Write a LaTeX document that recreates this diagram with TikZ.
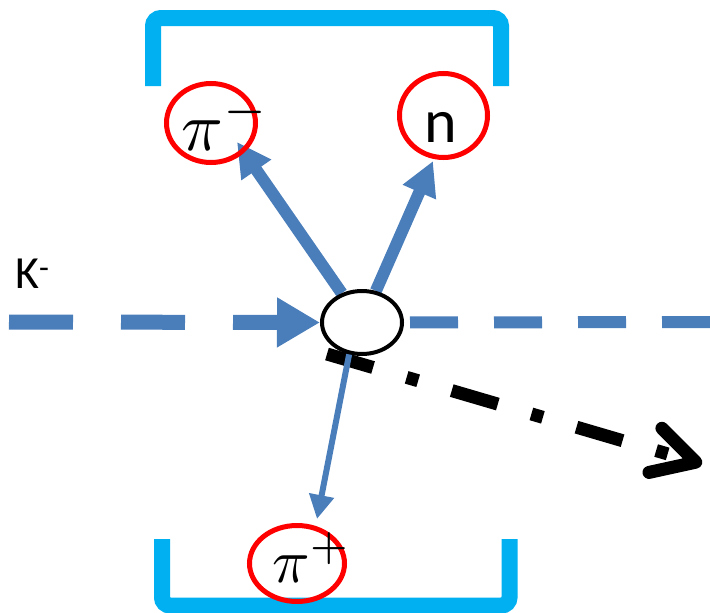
\documentclass[tikz,border=0pt]{standalone}
\usepackage{fontspec}
\newfontfamily\calibri{Carlito}
\usetikzlibrary{arrows.meta,shapes.geometric,backgrounds}
\definecolor{brk}{HTML}{00B0F0}
\definecolor{pblue}{HTML}{4A7EBB}
\definecolor{pred}{HTML}{FF0000}
\begin{document}
\begin{tikzpicture}[x=1pt,y=-1pt,
  bracket/.style={draw=brk,line width=16pt,rounded corners=8pt},
  particle/.style={ellipse,draw=pred,line width=5pt,inner sep=0pt},
  thicktrack/.style={draw=pblue,line width=12pt,-{Triangle[length=34pt,width=34pt]}},
  thintrack/.style={draw=pblue,line width=6pt,-{Triangle[length=24pt,width=24pt]}},
  lbl/.style={inner sep=0pt},
]
\useasboundingbox (0,0) rectangle (710,613);

% brackets
\draw[bracket] (153,86) -- (153,18) -- (501,18) -- (501,86);
\draw[bracket] (162,539) -- (162,605.5) -- (509.5,605.5) -- (509.5,539);

% particle circles
\node[particle,minimum width=89pt,minimum height=79pt] (pim) at (211,123) {};
\node[particle,minimum width=88pt,minimum height=84pt] (nn) at (443.5,115.5) {};
\node[particle,minimum width=95pt,minimum height=76pt] (pip) at (297,563.5) {};

% labels
\node[lbl,anchor=base west] (pimt) at (181,150) {\scalebox{6.9}{$\pi^{-}$}};
\node[lbl,anchor=base,font=\calibri\fontsize{62}{62}\selectfont] (nt) at (441,142) {n};
\node[lbl,anchor=base west] (pipt) at (272,582) {\scalebox{6.2}{$\pi^{+}$}};
\node[lbl,anchor=base west,font=\calibri\fontsize{46}{46}\selectfont] (kt) at (15,288) {K\textsuperscript{-}};

% vertex
\node[ellipse,draw=black,fill=white,line width=4pt,minimum width=80pt,minimum height=63pt,inner sep=0pt] (c) at (362,322.5) {};

\coordinate (kstart) at (9,322);
\coordinate (rend) at (712,322);
\coordinate (pimtip) at (237,142);
\coordinate (ntip) at (433,161);
\coordinate (piptip) at (317,519);
\coordinate (bstart) at (327,354);
\coordinate (btip) at (702,464);

\begin{scope}[on background layer]
  \draw[draw=pblue,line width=15pt,dash pattern=on 64pt off 48pt,
        -{Triangle[length=43pt,width=47pt]}] (kstart) -- (c.west);
  \draw[draw=pblue,line width=12pt,dash pattern=on 48pt off 36pt,dash phase=78pt] (c.east) -- (rend);
  \draw[thicktrack] (c) -- (pimtip);
  \draw[thicktrack] (c) -- (ntip);
\end{scope}

% missing particle (dash-dot)
\draw[black,line width=13pt,dash pattern=on 48pt off 35pt on 12pt off 35pt,
      -{Straight Barb[length=42pt,width=46pt,line cap=round,line join=round]}] (bstart) -- (btip);

\draw[thintrack] (c.-112) -- (piptip);
\end{tikzpicture}
\end{document}
